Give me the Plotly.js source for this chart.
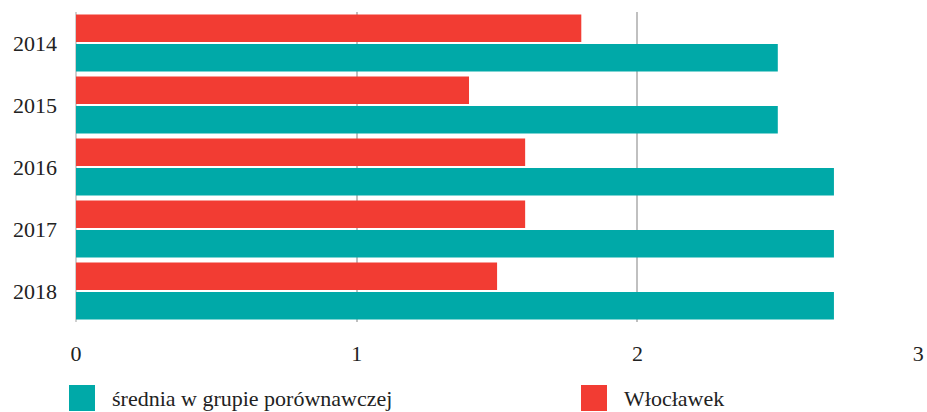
<!DOCTYPE html>
<html>
<head>
<meta charset="utf-8">
<script src="https://cdn.plot.ly/plotly-3.0.1.min.js"></script>
<style>
html,body{margin:0;padding:0;background:#fff;}
#chart{width:927px;height:412px;}
.modebar-container{display:none !important;}
</style>
</head>
<body>
<div id="chart"></div>
<script>
const years = ["2014", "2015", "2016", "2017", "2018"];
const wloclawek = [1.8, 1.4, 1.6, 1.6, 1.5];
const srednia = [2.5, 2.5, 2.7, 2.7, 2.7];
const seriesNames = ["średnia w grupie porównawczej", "Włocławek"];
const colors = ["#00a9a8", "#f23c33"];
const xTicks = [0, 1, 2, 3];

const FONT = "Liberation Serif";

const traces = [
  {type: "bar", orientation: "h", name: seriesNames[1], y: years, x: wloclawek,
   marker: {color: colors[1]}},
  {type: "bar", orientation: "h", name: seriesNames[0], y: years, x: srednia,
   marker: {color: colors[0]}}
];

// manual legend (large square swatches)
const L = 76, W = 843, T = 12, B = 322, H = B - T;
const px = v => (v - L) / W;
const py = v => (B - v) / H;
const legendX = [69, 581];
const shapes = [], annotations = [];
[0, 1].forEach(i => {
  shapes.push({type: "rect", xref: "paper", yref: "paper",
    x0: px(legendX[i]), x1: px(legendX[i] + 26), y0: py(385), y1: py(411),
    fillcolor: colors[i], line: {width: 0}});
  annotations.push({xref: "paper", yref: "paper", x: px(legendX[i] + 41), y: py(398),
    xanchor: "left", yanchor: "middle", showarrow: false, text: seriesNames[i]});
});

const layout = {
  width: 927, height: 412,
  margin: {l: 76, r: 8, t: 12, b: 90},
  paper_bgcolor: "#fff", plot_bgcolor: "#fff",
  barmode: "group", bargap: 0.05, bargroupgap: 0.07,
  showlegend: false,
  font: {family: FONT, size: 22, color: "#222"},
  xaxis: {range: [0, 3.003], tickvals: xTicks, ticktext: xTicks.map(String),
    showgrid: true, gridcolor: "#c0c0c0", gridwidth: 2,
    zeroline: true, zerolinecolor: "#d0d0d0", zerolinewidth: 2,
    ticks: "", ticklabelstandoff: 16, showline: false,
    tickfont: {family: FONT}},
  yaxis: {type: "category", categoryorder: "array", categoryarray: years,
    autorange: "reversed", showgrid: false, zeroline: false, showline: false,
    ticks: "", ticklabelstandoff: 18},
  shapes: shapes, annotations: annotations
};

Plotly.newPlot("chart", traces, layout);
</script>
</body>
</html>
